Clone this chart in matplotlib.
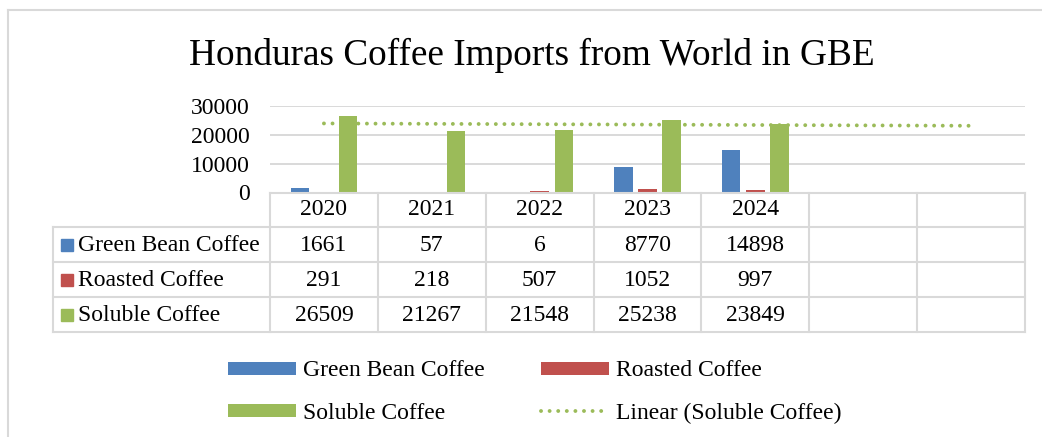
import matplotlib.pyplot as plt
from matplotlib.lines import Line2D
import numpy as np

plt.rcParams['font.family'] = ['Liberation Serif', 'DejaVu Serif']

years = ['2020', '2021', '2022', '2023', '2024', '', '']
series = ['Green Bean Coffee', 'Roasted Coffee', 'Soluble Coffee']
green_bean = [1661, 57, 6, 8770, 14898]
roasted = [291, 218, 507, 1052, 997]
soluble = [26509, 21267, 21548, 25238, 23849]
colors = ['#4F81BD', '#C0504D', '#9BBB59']
grid_c = '#d9d9d9'

W, H = 1042, 437
fig = plt.figure(figsize=(W / 100, H / 100), dpi=100)

def px(x0, y0, x1, y1):
    # pixel box -> figure fraction rect
    return [x0 / W, 1 - y1 / H, (x1 - x0) / W, (y1 - y0) / H]

# outer chart frame (cut off at right and bottom)
fig.add_artist(Line2D([7.5 / W, 1], [1 - 9.5 / H] * 2, color=grid_c, lw=1.5))
fig.add_artist(Line2D([7.5 / W] * 2, [1 - 9.5 / H, 0], color=grid_c, lw=1.5))

fig.text(531.5 / W, 1 - 65 / H, 'Honduras Coffee Imports from World in GBE',
         ha='center', va='baseline', fontsize=26.8)

ax = fig.add_axes(px(270, 106, 1025, 192.5))
n = len(green_bean)
x = np.arange(1, n + 1)
data = [green_bean, roasted, soluble]
offsets = [-0.223, 0, 0.223]
bars = []
for vals, off, c, lab in zip(data, offsets, colors, series):
    bars.append(ax.bar(x + off, vals, width=0.17, color=c, label=lab, zorder=3))

# linear trendline on soluble coffee, extended over all category slots
k, b = np.polyfit(x, soluble, 1)
xt = np.arange(1, len(years) + 1)
trend, = ax.plot(xt, k * xt + b, color=colors[2], lw=2.8,
                 linestyle=(0, (0.01, 2.2)), dash_capstyle='round', zorder=4,
                 label='Linear (Soluble Coffee)')

ax.set_xlim(0.5, len(years) + 0.5)
ax.set_ylim(0, 30000)
ax.set_yticks([0, 10000, 20000, 30000])
ax.set_xticks([])
ax.grid(axis='y', color=grid_c, lw=1.4, zorder=0)
for s in ax.spines.values():
    s.set_visible(False)
ax.tick_params(axis='y', length=0, pad=14.4, labelsize=17)

# data table under the plot
tab = fig.add_axes(px(270, 192.5, 1025, 332))
tab.set_xlim(0.5, len(years) + 0.5)
tab.set_ylim(4, 0)
tab.axis('off')
left = 0.5 - (270 - 53) / (755 / len(years))
kw = dict(color=grid_c, lw=1.5, clip_on=False, solid_capstyle='projecting')
tab.plot([0.5, len(years) + 0.5], [0, 0], **kw)
for r in range(1, 5):
    tab.plot([left, len(years) + 0.5], [r, r], **kw)
for c in range(len(years) + 1):
    tab.plot([c + 0.5, c + 0.5], [0, 4], **kw)
tab.plot([left, left], [1, 4], **kw)

for i, yr in enumerate(years):
    tab.text(i + 1, 0.5, yr, ha='center', va='center', fontsize=17)
for r, (vals, c, lab) in enumerate(zip(data, colors, series)):
    tab.plot([left + 0.127], [r + 1.5], marker='s', ms=8.3, color=c,
             clip_on=False, lw=0)
    tab.text(left + 0.232, r + 1.52, lab, ha='left', va='center', fontsize=17)
    for i, v in enumerate(vals):
        tab.text(i + 1, r + 1.52, str(v), ha='center', va='center', fontsize=17)

fig.legend([bars[0], bars[2], bars[1], trend],
           [series[0], series[2], series[1], 'Linear (Soluble Coffee)'],
           ncol=2, loc='upper left', bbox_to_anchor=(228 / W, 1 - 360.5 / H),
           frameon=False, borderpad=0, borderaxespad=0, fontsize=17,
           handlelength=2.88, handleheight=0.47, handletextpad=0.3,
           columnspacing=2.36, labelspacing=0.9)

fig.savefig('out.png', dpi=100)
